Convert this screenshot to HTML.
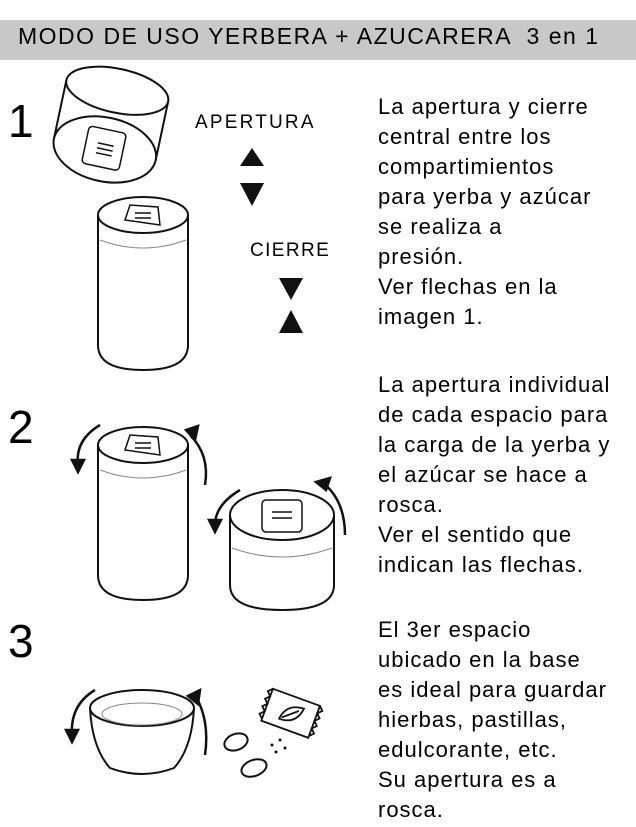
<!DOCTYPE html>
<html><head><meta charset="utf-8"><style>
body{margin:0;background:#fff;width:636px;height:827px;overflow:hidden;position:relative;font-family:"Liberation Sans","DejaVu Sans",sans-serif;color:#000}
.bar{position:absolute;left:0;top:20px;width:636px;height:40px;background:#c8c8c8}
.title{position:absolute;left:18px;top:23px;font-size:23px;letter-spacing:1.5px;white-space:pre}
.num{position:absolute;left:8px;font-size:46px}
.txt{position:absolute;left:378px;font-size:22px;line-height:30px;letter-spacing:1px;white-space:nowrap}
.lbl{position:absolute;font-size:19px}
svg{position:absolute;left:0;top:0}
</style></head><body>
<div class="bar"></div>
<div class="title">MODO DE USO YERBERA + AZUCARERA  3 en 1</div>
<div class="num" style="top:94px">1</div>
<div class="num" style="top:400px">2</div>
<div class="num" style="top:614px">3</div>
<div class="lbl" style="left:195px;top:112px;letter-spacing:2.2px">APERTURA</div>
<div class="lbl" style="left:250px;top:240px;letter-spacing:1.4px">CIERRE</div>
<div class="txt" style="top:92px">La apertura y cierre<br>central entre los<br>compartimientos<br>para yerba y azúcar<br>se realiza a<br>presión.<br>Ver flechas en la<br>imagen 1.</div>
<div class="txt" style="top:370px">La apertura individual<br>de cada espacio para<br>la carga de la yerba y<br>el azúcar se hace a<br>rosca.<br>Ver el sentido que<br>indican las flechas.</div>
<div class="txt" style="top:615px">El 3er espacio<br>ubicado en la base<br>es ideal para guardar<br>hierbas, pastillas,<br>edulcorante, etc.<br>Su apertura es a<br>rosca.</div>
<svg width="636" height="827" fill="none" stroke="#111" stroke-width="2">
<polygon points="240,166 264,166 252,148" fill="#111" stroke="none"/>
<polygon points="240,183 264,183 252,206" fill="#111" stroke="none"/>
<polygon points="279,278 303,278 291,300" fill="#111" stroke="none"/>
<polygon points="279,333 303,333 291,310" fill="#111" stroke="none"/>
<g transform="rotate(12 110 125)">
<ellipse cx="110" cy="90" rx="52" ry="22"/>
<path d="M58 90 V150 M162 90 V150"/>
<ellipse cx="110" cy="150" rx="52" ry="32" fill="#fff"/>
<rect x="90" y="130" width="38" height="38" rx="4" stroke-width="1.5"/>
<path d="M102 145h16M102 150h16M102 155h16" stroke-width="1.5"/>
</g>
<ellipse cx="143" cy="215" rx="45" ry="18"/>
<path d="M98 215 V345 M188 215 V345"/>
<path d="M98 345 Q98 370 143 370 Q188 370 188 345"/>
<path d="M100 240 Q143 256 186 240" stroke-width="1" stroke="#888"/>
<path d="M125 220 L130 205 L158 207 L160 225 Z" stroke-width="1.5"/>
<path d="M135 213h16M135 218h16" stroke-width="1.5"/>
<ellipse cx="143" cy="445" rx="45" ry="18"/>
<path d="M98 445 V575 M188 445 V575"/>
<path d="M98 575 Q98 600 143 600 Q188 600 188 575"/>
<path d="M100 470 Q143 486 186 470" stroke-width="1" stroke="#888"/>
<path d="M125 450 L130 435 L158 437 L160 455 Z" stroke-width="1.5"/>
<path d="M135 443h16M135 448h16" stroke-width="1.5"/>
<ellipse cx="282" cy="515" rx="52" ry="25"/>
<path d="M230 515 V585 M334 515 V585"/>
<path d="M230 585 Q230 610 282 610 Q334 610 334 585"/>
<path d="M232 548 Q282 566 332 548" stroke-width="1" stroke="#888"/>
<rect x="262" y="500" width="40" height="32" rx="4" stroke-width="1.5"/>
<path d="M272 512h20M272 518h20" stroke-width="1.5"/>
<g stroke-width="2.5">
<path d="M100 425 Q75 440 78 465"/><polygon points="72,460 84,460 78,472" fill="#111"/>
<path d="M190 435 Q210 455 205 485"/><polygon points="186,430 198,426 195,440" fill="#111"/>
<path d="M240 490 Q215 505 215 525"/><polygon points="209,520 221,520 215,532" fill="#111"/>
<path d="M322 482 Q345 500 345 535"/><polygon points="316,482 330,478 326,490" fill="#111"/>
<path d="M95 690 Q70 705 72 735"/><polygon points="66,730 78,730 72,742" fill="#111"/>
<path d="M195 695 Q210 720 205 755"/><polygon points="188,696 200,690 198,704" fill="#111"/>
</g>
<ellipse cx="142" cy="708" rx="52" ry="18"/>
<path d="M90 708 Q92 748 110 768 Q142 780 174 768 Q192 748 194 708"/>
<ellipse cx="142" cy="714" rx="40" ry="11" stroke-width="1" stroke="#888"/>
<ellipse cx="236" cy="742" rx="12" ry="8" transform="rotate(-20 236 742)"/>
<ellipse cx="254" cy="768" rx="13" ry="8" transform="rotate(-20 254 768)"/>
<g fill="#111" stroke="none"><circle cx="272" cy="745" r="1.5"/><circle cx="280" cy="740" r="1.5"/><circle cx="285" cy="748" r="1.5"/><circle cx="276" cy="752" r="1.5"/></g>
<g transform="rotate(20 290 712)" stroke-width="1.8">
<rect x="266" y="696" width="50" height="34"/>
<path d="M266 696 l-4 4 4 4 -4 4 4 4 -4 4 4 4 -4 4 4 4 M316 696 l4 4 -4 4 4 4 -4 4 4 4 -4 4 4 4 -4 4"/>
<path d="M282 722 Q284 705 302 704 Q300 722 282 722 Z M284 720 L298 708"/>
</g>
</svg>
</body></html>
